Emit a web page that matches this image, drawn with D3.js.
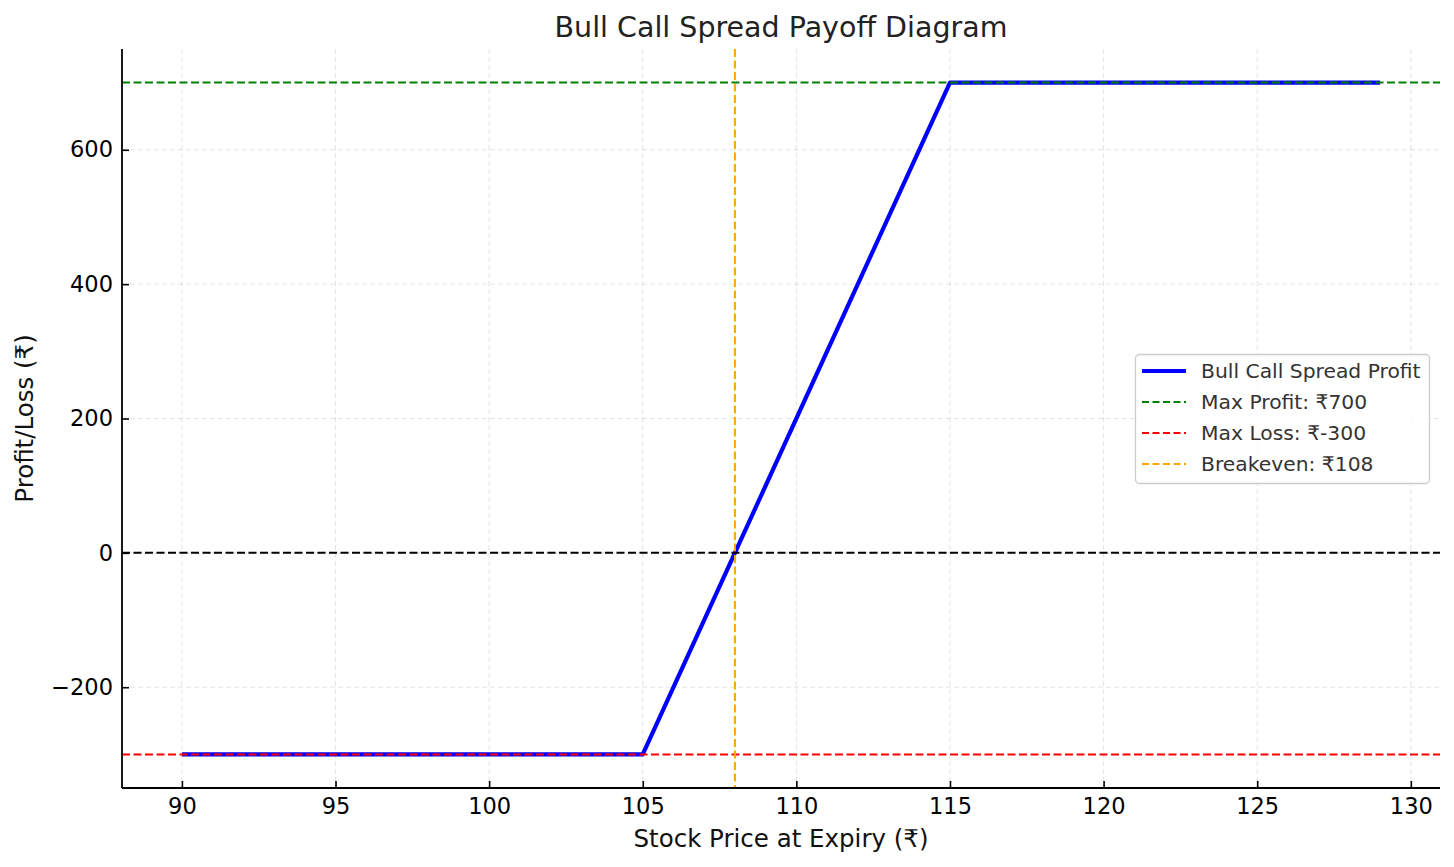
<!DOCTYPE html>
<html><head><meta charset="utf-8">
<script src="https://cdn.jsdelivr.net/npm/d3@7"></script>
<style>body{margin:0;background:#fff;} svg{display:block;font-family:"DejaVu Sans",sans-serif;}</style>
</head><body>
<svg id="c" width="1454" height="867"></svg>
<script>
const prices = [90, 105, 115, 129];
const profit = [-300, -300, 700, 700];
const xTicks = [90, 95, 100, 105, 110, 115, 120, 125, 130];
const yTicks = [-200, 0, 200, 400, 600];
const maxProfit = 700, maxLoss = -300, breakeven = 108;
const legendLabels = ["Bull Call Spread Profit", "Max Profit: ₹700", "Max Loss: ₹-300", "Breakeven: ₹108"];

const svg = d3.select("#c");
const L = 122, R = 1440, T = 49, B = 788;
const x = d3.scaleLinear().domain([88.05, 130.95]).range([L, R]);
const y = d3.scaleLinear().domain([-350, 750]).range([B, T]);

// grid
const g = svg.append("g");
g.selectAll(".gx").data(xTicks).enter().append("line")
  .attr("x1", d => x(d)).attr("x2", d => x(d)).attr("y1", T).attr("y2", B)
  .attr("stroke", "#b0b0b0").attr("stroke-opacity", 0.35).attr("stroke-width", 1).attr("stroke-dasharray", "5,3");
g.selectAll(".gy").data(yTicks).enter().append("line")
  .attr("y1", d => y(d)).attr("y2", d => y(d)).attr("x1", L).attr("x2", R)
  .attr("stroke", "#b0b0b0").attr("stroke-opacity", 0.35).attr("stroke-width", 1).attr("stroke-dasharray", "5,3");

// payoff line
const data = prices.map((p, i) => [p, profit[i]]);
svg.append("path").datum(data)
  .attr("d", d3.line().x(d => x(d[0])).y(d => y(d[1])))
  .attr("fill", "none").attr("stroke", "#0000ff").attr("stroke-width", 4.2).attr("stroke-linejoin", "round");

const dash = "8,3.5";
svg.append("line").attr("x1", L).attr("x2", R).attr("y1", y(maxProfit)).attr("y2", y(maxProfit))
  .attr("stroke", "green").attr("stroke-width", 2).attr("stroke-dasharray", dash);
svg.append("line").attr("x1", L).attr("x2", R).attr("y1", y(maxLoss)).attr("y2", y(maxLoss))
  .attr("stroke", "red").attr("stroke-width", 2).attr("stroke-dasharray", dash);
svg.append("line").attr("x1", x(breakeven)).attr("x2", x(breakeven)).attr("y1", T).attr("y2", B)
  .attr("stroke", "orange").attr("stroke-width", 2).attr("stroke-dasharray", dash);
svg.append("line").attr("x1", L).attr("x2", R).attr("y1", y(0)).attr("y2", y(0))
  .attr("stroke", "black").attr("stroke-width", 2).attr("stroke-dasharray", dash);

// axes (ticks point inward)
const xa = svg.append("g").attr("transform", `translate(0,${B})`)
  .call(d3.axisBottom(x).tickValues(xTicks).tickSizeInner(-7).tickSizeOuter(0).tickPadding(10).tickFormat(d3.format("d")));
const ya = svg.append("g").attr("transform", `translate(${L},0)`)
  .call(d3.axisLeft(y).tickValues(yTicks).tickSizeInner(-7).tickSizeOuter(0).tickPadding(9).tickFormat(d => d < 0 ? "\u2212" + Math.abs(d) : d));
[xa, ya].forEach(a => {
  a.selectAll("text").attr("font-size", 22.5).attr("fill", "#000").attr("font-family", "DejaVu Sans");
  a.selectAll("line").attr("stroke", "#000").attr("stroke-width", 1.6);
  a.select(".domain").attr("stroke", "#000").attr("stroke-width", 1.8);
});
xa.select(".domain").attr("d", `M${L},0H${R}`);
ya.select(".domain").attr("d", `M0,${T}V${B}`);

// title & labels
svg.append("text").attr("x", (L + R) / 2).attr("y", 37).attr("text-anchor", "middle")
  .attr("font-size", 28.5).attr("fill", "#222").text("Bull Call Spread Payoff Diagram");
svg.append("text").attr("x", (L + R) / 2).attr("y", 847).attr("text-anchor", "middle")
  .attr("font-size", 24.5).attr("fill", "#111").text("Stock Price at Expiry (₹)");
svg.append("text").attr("transform", `translate(33,${(T + B) / 2}) rotate(-90)`).attr("text-anchor", "middle")
  .attr("font-size", 24.5).attr("fill", "#111").text("Profit/Loss (₹)");

// legend
const lg = svg.append("g");
lg.append("rect").attr("x", 1135.5).attr("y", 354.5).attr("width", 294).attr("height", 129).attr("rx", 4)
  .attr("fill", "#fff").attr("fill-opacity", 0.8).attr("stroke", "#ccc").attr("stroke-width", 1.3);
const lc = ["#0000ff", "green", "red", "orange"];
legendLabels.forEach((t, i) => {
  const yy = 371 + i * 31;
  lg.append("line").attr("x1", 1142).attr("x2", 1186).attr("y1", yy).attr("y2", yy)
    .attr("stroke", lc[i]).attr("stroke-width", i === 0 ? 4.2 : 2).attr("stroke-dasharray", i === 0 ? null : "7,3.5");
  lg.append("text").attr("x", 1201).attr("y", yy + 7).attr("font-size", 20.3).attr("fill", "#333").text(t);
});
</script>
</body></html>
